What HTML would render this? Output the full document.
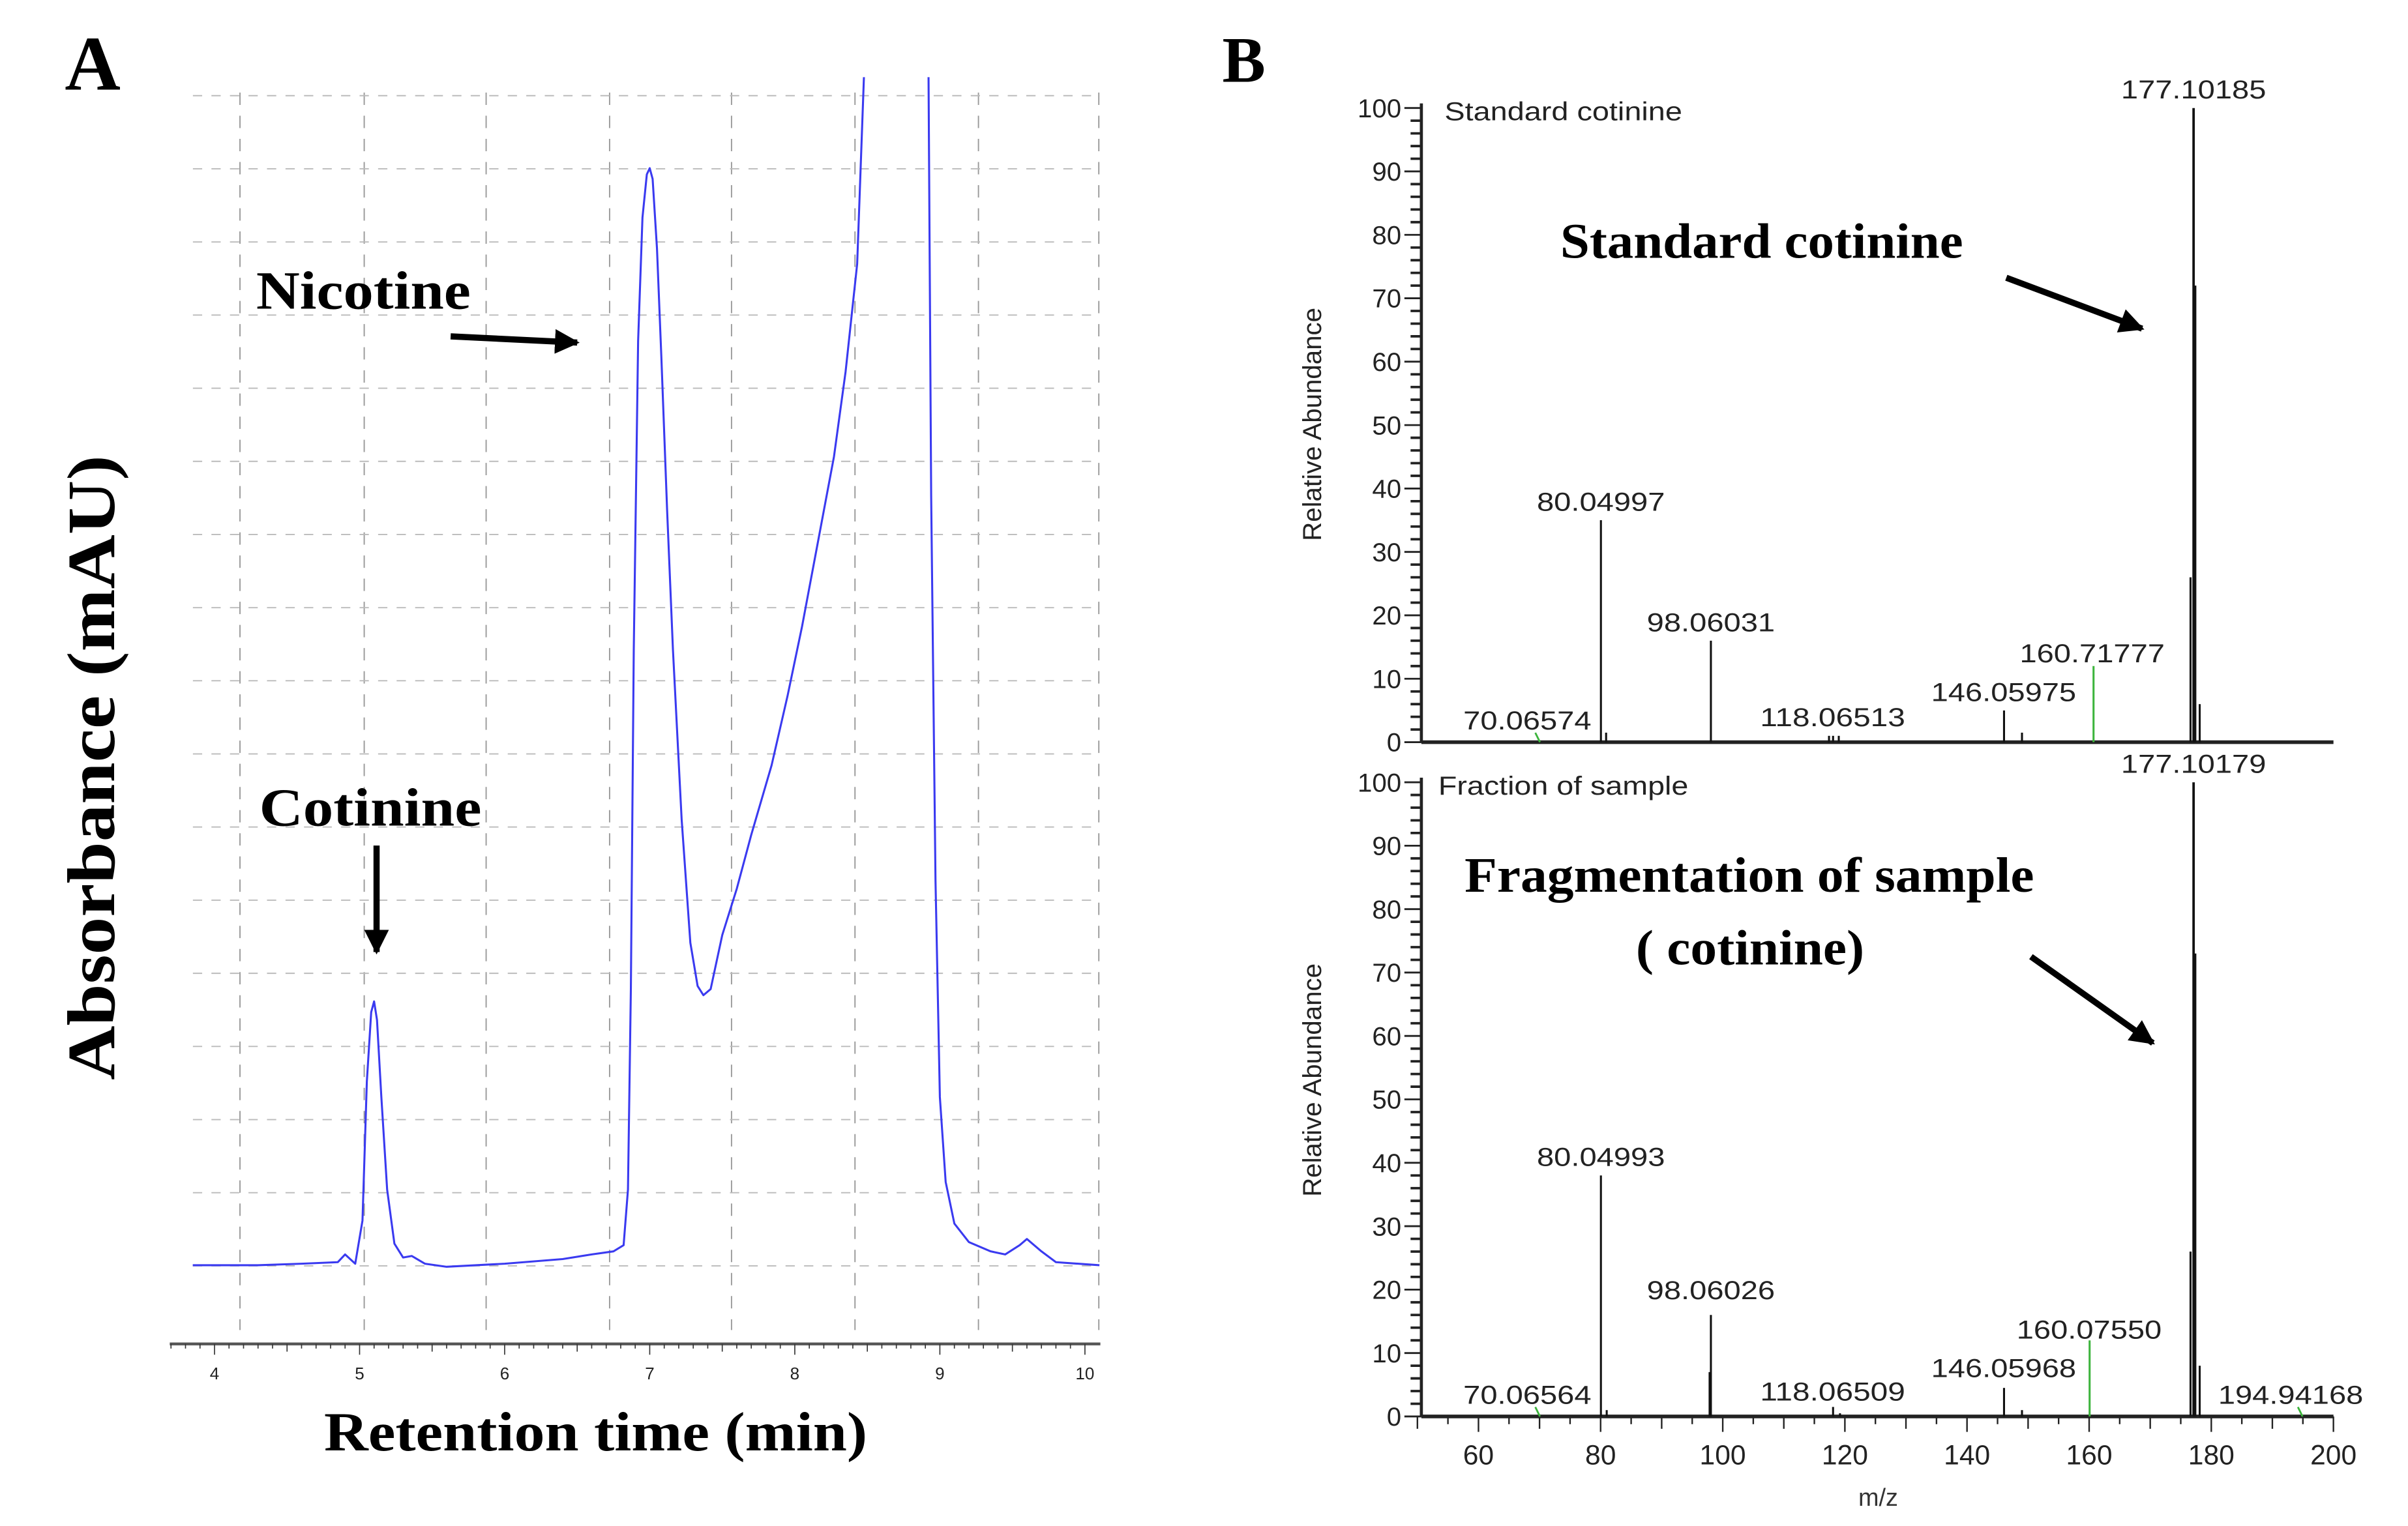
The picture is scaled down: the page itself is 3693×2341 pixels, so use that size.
<!DOCTYPE html>
<html><head><meta charset="utf-8"><style>
html,body{margin:0;padding:0;background:#fff;}
svg{display:block;}
.serif{font-family:"Liberation Serif",serif;font-weight:bold;}
.sans{font-family:"Liberation Sans",sans-serif;}
</style></head><body>
<svg id="fig" width="3693" height="2341" viewBox="0 0 1560.3 989" preserveAspectRatio="none" xmlns="http://www.w3.org/2000/svg">
<defs>
<marker id="ah" viewBox="0 0 10 10" refX="9" refY="5" markerWidth="4" markerHeight="4" orient="auto"><path d="M0,0 L10,5 L0,10 z" fill="#000"/></marker>
</defs>
<text class="serif" x="42" y="58" font-size="50">A</text>
<text class="serif" x="792" y="53" font-size="42">B</text>
<g id="chromA"></g>
<g id="specTop"></g>
<g id="specBot"></g>

<text class="serif" x="166" y="200" font-size="35" textLength="139" lengthAdjust="spacingAndGlyphs">Nicotine</text>
<line x1="292" y1="218" x2="374" y2="222" stroke="#000" stroke-width="4" marker-end="url(#ah)"/>
<text class="serif" x="168" y="535" font-size="35" textLength="144" lengthAdjust="spacingAndGlyphs">Cotinine</text>
<line x1="244" y1="548" x2="244" y2="617" stroke="#000" stroke-width="4" marker-end="url(#ah)"/>
<text class="serif" x="210" y="940" font-size="36" textLength="352" lengthAdjust="spacingAndGlyphs">Retention time (min)</text>
<text class="serif" transform="translate(74,700) rotate(-90)" font-size="44" textLength="405" lengthAdjust="spacingAndGlyphs">Absorbance (mAU)</text>

<text class="serif" x="1011" y="167" font-size="32" textLength="261" lengthAdjust="spacingAndGlyphs">Standard cotinine</text>
<line x1="1300" y1="180" x2="1388" y2="213" stroke="#000" stroke-width="4" marker-end="url(#ah)"/>
<text class="serif" x="949" y="578" font-size="32" textLength="369" lengthAdjust="spacingAndGlyphs">Fragmentation of sample</text>
<text class="serif" x="1060" y="625" font-size="32" textLength="148" lengthAdjust="spacingAndGlyphs">( cotinine)</text>
<line x1="1316" y1="620" x2="1395" y2="676" stroke="#000" stroke-width="4" marker-end="url(#ah)"/>
<text class="sans" x="1217" y="976" font-size="16" text-anchor="middle" fill="#333">m/z</text>
</svg>
<script>
// Chromatogram data (time min, absorbance in arbitrary units)
var chromTimes = [3.85,4.3,4.6,4.85,4.9,4.97,5.02,5.05,5.08,5.1,5.12,5.15,5.19,5.24,5.3,5.36,5.45,5.6,6.0,6.4,6.6,6.75,6.82,6.85,6.87,6.89,6.92,6.95,6.98,7.0,7.02,7.05,7.08,7.12,7.16,7.22,7.28,7.33,7.37,7.42,7.5,7.6,7.7,7.84,7.95,8.05,8.15,8.27,8.35,8.43,8.48,8.52,8.7,8.88,8.92,8.94,8.97,9.0,9.04,9.1,9.2,9.35,9.45,9.55,9.6,9.7,9.8,10.1];
var chromValues = [1,1,2,3,8,2,30,120,165,172,160,110,50,15,6,7,2,0,2,5,8,10,14,50,180,400,600,680,708,712,705,660,590,490,400,290,210,182,176,180,215,245,280,325,370,415,465,525,580,650,780,900,1300,1300,800,500,250,110,55,28,16,10,8,14,18,10,3,1];
var timeTicks = [4,5,6,7,8,9,10];
// Spectra data
var topMz = [70.06574,80.04997,80.9,98.06031,117.4,118.06513,119.0,146.05975,149.0,160.71777,176.6,177.10185,177.35,178.1];
var topInt = [1,35,1.5,16,1,1,1,5,1.5,12,26,100,72,6];
var topGreen = [1,0,0,0,0,0,0,0,0,1,0,0,0,0];
var botMz = [70.06564,80.04993,81.0,97.85,98.06026,118.06509,119.2,146.05968,149.0,160.0755,176.6,177.10179,177.35,178.1,194.94168];
var botInt = [1,38,1,7,16,1.5,0.5,4.5,1,12,26,100,73,8,1];
var botGreen = [1,0,0,0,0,0,0,0,0,1,0,0,0,0,1];
var topLabels = ["177.10185","80.04997","98.06031","70.06574","118.06513","146.05975","160.71777"];
var topLabelMz = [177.1,80.05,98.06,68.0,118.0,146.0,160.5];
var topLabelInt = [101.5,36.5,17.5,2,2.5,6.5,12.6];
var botLabels = ["177.10179","80.04993","98.06026","70.06564","118.06509","146.05968","160.07550","194.94168"];
var botLabelMz = [177.1,80.05,98.06,68.0,118.0,146.0,160.0,193.0];
var botLabelInt = [101.5,39.5,18.5,2,2.5,6.2,12.3,2];
var mzTicks = [60,80,100,120,140,160,180,200];

var NS='http://www.w3.org/2000/svg';
function mk(tag,attrs,parent){var e=document.createElementNS(NS,tag);for(var k in attrs)e.setAttribute(k,attrs[k]);parent.appendChild(e);return e;}

// ---- Panel A ----
var gA=document.getElementById('chromA');
function xT(t){return 139+94*(t-4);}
function yA(v){return 821-v;}
var gx=[155.5,236,315,395,474,554,634,712];
for(var i=0;i<gx.length;i++){var l=mk('line',{x1:gx[i],y1:60,x2:gx[i],y2:862,stroke:'#999','stroke-width':0.8,'stroke-dasharray':'8,7'},gA);

}
for(var j=0;j<=16;j++){var yy=62+j*47.4;var l2=mk('line',{x1:125,y1:yy,x2:713,y2:yy,stroke:'#bbb','stroke-width':0.8,'stroke-dasharray':'6,6'},gA);

}
var ax=mk('line',{x1:110,y1:871,x2:713,y2:871,stroke:'#555','stroke-width':1.8},gA);


for(var t=3.7;t<=10.05;t+=0.1){var major=Math.abs(t-Math.round(t))<0.01;var half=Math.abs(t*2-Math.round(t*2))<0.02;
var tk=mk('line',{x1:xT(t),y1:871,x2:xT(t),y2:871+(major?7:(half?5:3)),stroke:'#333','stroke-width':0.7},gA);

}
for(var k=0;k<timeTicks.length;k++){var tx=mk('text',{x:xT(timeTicks[k]),y:894,'font-size':11,'text-anchor':'middle',fill:'#222','class':'sans'},gA);tx.textContent=timeTicks[k];

}
mk('clipPath',{id:'clipA'},gA).appendChild(document.createElementNS(NS,'rect'));
var cr=gA.querySelector('#clipA rect');cr.setAttribute('x',110);cr.setAttribute('y',50);cr.setAttribute('width',610);cr.setAttribute('height',800);
var d='';for(var p=0;p<chromTimes.length;p++){d+=(p?'L':'M')+xT(chromTimes[p]).toFixed(2)+','+yA(chromValues[p]).toFixed(2);}
var tr=mk('path',{d:d,fill:'none',stroke:'#3a3af0','stroke-width':1.3,'stroke-linejoin':'round','clip-path':'url(#clipA)'},gA);



// ---- Panel B ----
function xM(m){return 958+(m-60)*3.957;}
function spectrum(g,y100,y0,mz,inten,green,labels,lmz,lint,showX,title,ylabCy){
 function yI(v){return y0-(y0-y100)*v/100;}
 var a=mk('line',{x1:921,y1:y100-3,x2:921,y2:y0,stroke:'#222','stroke-width':2},g);
 
 
 var b=mk('line',{x1:921,y1:y0,x2:1512,y2:y0,stroke:'#222','stroke-width':2.4},g);
 
 
 for(var v=0;v<=100;v+=2){var maj=v%10==0;var t=mk('line',{x1:maj?910:914,y1:yI(v),x2:921,y2:yI(v),stroke:'#222','stroke-width':maj?1.2:1.6},g);
  
  
  if(maj){var tl=mk('text',{x:908,y:yI(v)+6,'font-size':17,'text-anchor':'end',fill:'#222','class':'sans'},g);tl.textContent=v;
  
  }}
 for(var m=50;m<=200;m+=5){var mj=m%20==0;var t2=mk('line',{x1:xM(m),y1:y0,x2:xM(m),y2:y0+(showX?(mj?10:(m%10==0?8:5)):0),stroke:'#222','stroke-width':1},g);
  
  }
 if(showX){for(var q=0;q<mzTicks.length;q++){var xl=mk('text',{x:xM(mzTicks[q]),y:y0+31,'font-size':18,'text-anchor':'middle',fill:'#222','class':'sans'},g);xl.textContent=mzTicks[q];
  
  }}
 for(var i=0;i<mz.length;i++){var col=green[i]?'#3cb43c':'#111';
  var pk;
  if(green[i]&&inten[i]<3){pk=mk('line',{x1:xM(mz[i])-3,y1:yI(inten[i])-2,x2:xM(mz[i]),y2:y0,stroke:col,'stroke-width':1.2},g);}
  else{pk=mk('line',{x1:xM(mz[i]),y1:yI(inten[i]),x2:xM(mz[i]),y2:y0,stroke:col,'stroke-width':inten[i]>50?1.6:1.3},g);}
  
  }
 for(var j=0;j<labels.length;j++){var lb=mk('text',{x:xM(lmz[j]),y:yI(lint[j]),'font-size':17,'text-anchor':'middle',textLength:labels[j].length>8?94:83,lengthAdjust:'spacingAndGlyphs',fill:'#222','class':'sans'},g);lb.textContent=labels[j];
  
  }
 var tt=mk('text',{x:title[1],y:y100+8,'font-size':17,textLength:title[2],lengthAdjust:'spacingAndGlyphs',fill:'#222','class':'sans'},g);tt.textContent=title[0];
 
 
 var yl=mk('text',{transform:'translate(856,'+ylabCy+') rotate(-90)','font-size':17,'text-anchor':'middle',fill:'#222','class':'sans'},g);yl.textContent='Relative Abundance';
 
 
}
spectrum(document.getElementById('specTop'),70,481,topMz,topInt,topGreen,topLabels,topLabelMz,topLabelInt,false,['Standard cotinine',936,154],275);
spectrum(document.getElementById('specBot'),507,918,botMz,botInt,botGreen,botLabels,botLabelMz,botLabelInt,true,['Fraction of sample',932,162],700);
</script>
</body></html>
